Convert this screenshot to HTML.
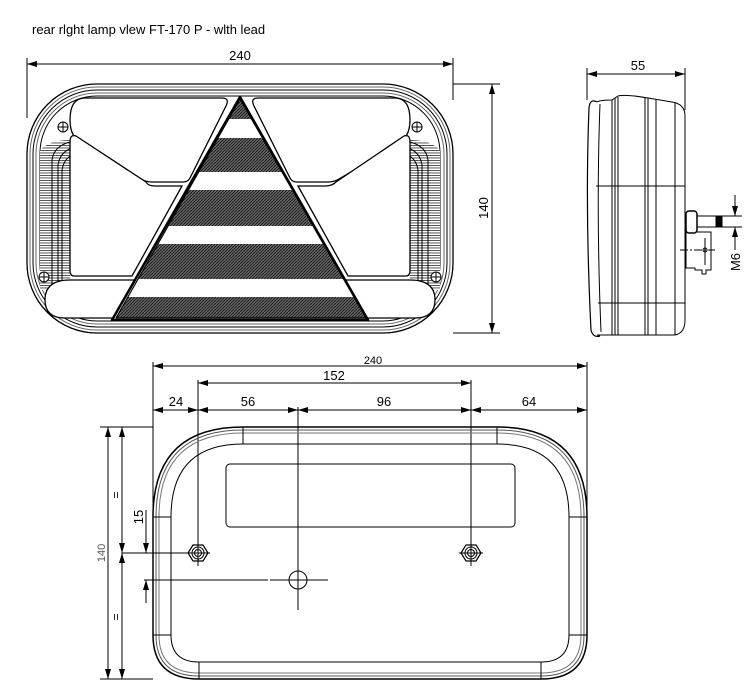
<!DOCTYPE html>
<html><head><meta charset="utf-8"><style>
html,body{margin:0;padding:0;background:#fff;}
svg{display:block;font-family:"Liberation Sans",Arial,sans-serif;}
</style></head><body>
<svg width="750" height="698" viewBox="0 0 750 698" xmlns="http://www.w3.org/2000/svg">
<defs>
<marker id="a" viewBox="0 0 10 6" refX="10" refY="3" markerWidth="10" markerHeight="6" orient="auto-start-reverse" markerUnits="userSpaceOnUse"><path d="M0,0 L10,3 L0,6 z" fill="#000"/></marker>
<pattern id="h" width="3" height="3" patternUnits="userSpaceOnUse"><rect width="3" height="3" fill="#6a6a6a"/><path d="M0,3 L3,0" stroke="#111" stroke-width="0.9"/></pattern>
<pattern id="st" width="3" height="2.5" patternUnits="userSpaceOnUse"><rect width="3" height="2.5" fill="#fff"/><rect width="3" height="0.9" fill="#444"/></pattern>
<clipPath id="tri"><path d="M240,99 L366,318 L116,318 Z"/></clipPath>
</defs>
<text x="32" y="34" font-size="13">rear rlght lamp vlew FT-170 P - wlth lead</text>

<!-- FRONT VIEW -->
<g fill="none" stroke="#000" stroke-width="1">
<line x1="27" y1="58" x2="27" y2="118"/><line x1="453" y1="58" x2="453" y2="100"/>
<line x1="27" y1="64" x2="453" y2="64" marker-start="url(#a)" marker-end="url(#a)"/>
<line x1="453" y1="84" x2="500" y2="84"/><line x1="453" y1="333" x2="500" y2="333"/>
<line x1="492" y1="84" x2="492" y2="333" marker-start="url(#a)" marker-end="url(#a)"/>
<rect x="27" y="84" width="426" height="249" rx="70" stroke-width="1.3"/>
<rect x="30" y="87" width="420" height="243" rx="67" stroke="#666"/>
<rect x="33" y="90" width="414" height="237" rx="64"/>
<rect x="36" y="93" width="408" height="231" rx="61" stroke="#666"/>
<rect x="40" y="96" width="400" height="225" rx="57"/>
<!-- side ribbed areas -->
<path d="M40,150 Q50,140 70,140 L72,170 L70,290 L58,290 L40,290 Z" fill="url(#st)" stroke="none"/>
<path d="M440,150 Q430,140 410,140 L408,170 L410,290 L422,290 L440,290 Z" fill="url(#st)" stroke="none"/>
<path d="M52,290 V160 Q54,146 70,142 M58,290 V165 Q60,152 72,148 M62,290 V170 Q64,158 74,154"/>
<path d="M428,290 V160 Q426,146 410,142 M422,290 V165 Q420,152 408,148 M418,290 V170 Q416,158 406,154"/>
<!-- upper left lens -->
<path d="M85,98 H222 Q230,98 226,106 L190,178 Q188,182 183,182 H152 Q146,182 141,179 L82,144 Q70,137 70,120 Q70,98 85,98 Z" stroke-width="1.3" fill="#fff"/>
<!-- lower left lens -->
<path d="M76,136 L146,182 Q148,186 155,186 H182 L132,276 H74 Q70,276 70,270 V142 Q70,134 76,136 Z" stroke-width="1.3" fill="#fff"/>
<!-- upper right lens -->
<path d="M395,98 H258 Q250,98 254,106 L290,178 Q292,182 297,182 H328 Q334,182 339,179 L398,144 Q410,137 410,120 Q410,98 395,98 Z" stroke-width="1.3" fill="#fff"/>
<path d="M404,136 L336,182 Q332,186 325,186 H298 L348,276 H406 Q410,276 410,270 V142 Q410,134 404,136 Z" stroke-width="1.3" fill="#fff"/>
<!-- bottom lens -->
<path d="M70,280 H410 Q435,280 435,300 Q435,318 415,318 H65 Q45,318 45,300 Q45,280 70,280 Z" stroke-width="1.3" fill="#fff"/>
<!-- screws -->
<circle cx="63" cy="127" r="5" fill="#fff"/><path d="M58,127 H68 M63,122 V132"/>
<circle cx="417" cy="127" r="5" fill="#fff"/><path d="M412,127 H422 M417,122 V132"/>
<circle cx="44" cy="277" r="5" fill="#fff"/><path d="M39,277 H49 M44,272 V282"/>
<circle cx="436" cy="277" r="5" fill="#fff"/><path d="M431,277 H441 M436,272 V282"/>
</g>
<!-- triangle -->
<path d="M240,97 L368,320 L112,320 Z" fill="#fff" stroke="#000" stroke-width="2.5" stroke-linejoin="round"/>
<g clip-path="url(#tri)" fill="url(#h)">
<rect x="100" y="99" width="280" height="20"/>
<rect x="100" y="138" width="280" height="34"/>
<rect x="100" y="190" width="280" height="36"/>
<rect x="100" y="244" width="280" height="35"/>
<rect x="100" y="297" width="280" height="22"/>
</g>
<path d="M240,99 L366,318 L116,318 Z" fill="none" stroke="#000" stroke-width="1.2" stroke-linejoin="round"/>
<text x="240" y="60" font-size="13" text-anchor="middle">240</text>
<text x="0" y="0" font-size="13" text-anchor="middle" transform="translate(488,208) rotate(-90)">140</text>

<!-- SIDE VIEW -->
<g fill="none" stroke="#000" stroke-width="1">
<line x1="587" y1="68" x2="587" y2="100"/><line x1="685" y1="68" x2="685" y2="110"/>
<line x1="587" y1="74" x2="685" y2="74" marker-start="url(#a)" marker-end="url(#a)"/>
<path d="M597,102 Q590,98 589,108 Q585,210 591,330 Q593,338 600,336" stroke-width="1.2"/>
<path d="M597,102 Q600,100 612,100 L618,96 Q625,94 648,98 L672,102 Q685,104 685,116 V320 Q685,333 675,335 L597,335"/>
<path d="M600,104 Q596,210 601,332"/>
<line x1="612" y1="100" x2="612" y2="335"/><line x1="615" y1="98" x2="615" y2="335"/><line x1="618" y1="97" x2="618" y2="335"/>
<line x1="645" y1="97" x2="645" y2="335"/><line x1="648" y1="98" x2="648" y2="335"/><line x1="656" y1="99" x2="656" y2="335"/>
<line x1="675" y1="102" x2="675" y2="335"/>
<line x1="596" y1="186" x2="685" y2="186"/><line x1="598" y1="303" x2="685" y2="303"/>
<rect x="686" y="211" width="11" height="22" rx="3" stroke-width="1.5"/>
<path d="M697,216 H718 V227 H697" />
<rect x="716" y="216" width="6" height="11" fill="#000"/>
<path d="M697,232 H711 V270 H706 V274 H702 V270 H695 V268 H686 V232"/>
<line x1="680" y1="250" x2="715" y2="250" stroke-dasharray="8,2,2,2"/>
<circle cx="705" cy="250" r="2"/>
<line x1="705" y1="238" x2="705" y2="265"/>
<line x1="722" y1="216" x2="742" y2="216"/><line x1="722" y1="227" x2="742" y2="227"/>
<line x1="735" y1="195" x2="735" y2="216" marker-end="url(#a)"/>
<line x1="735" y1="250" x2="735" y2="227" marker-end="url(#a)"/>
</g>
<text x="638" y="70" font-size="13" text-anchor="middle">55</text>
<text x="0" y="0" font-size="13" text-anchor="middle" transform="translate(740,262) rotate(-90)">M6</text>

<!-- BOTTOM VIEW -->
<g fill="none" stroke="#000" stroke-width="1">
<line x1="153" y1="362" x2="153" y2="520"/><line x1="587" y1="362" x2="587" y2="520"/>
<line x1="153" y1="366" x2="587" y2="366" marker-start="url(#a)" marker-end="url(#a)"/>
<line x1="198" y1="380" x2="198" y2="566"/><line x1="471" y1="380" x2="471" y2="566"/>
<line x1="198" y1="383" x2="471" y2="383" marker-start="url(#a)" marker-end="url(#a)"/>
<line x1="153" y1="410" x2="198" y2="410" marker-start="url(#a)" marker-end="url(#a)"/>
<line x1="198" y1="410" x2="298" y2="410" marker-start="url(#a)" marker-end="url(#a)"/>
<line x1="298" y1="410" x2="471" y2="410" marker-start="url(#a)" marker-end="url(#a)"/>
<line x1="471" y1="410" x2="587" y2="410" marker-start="url(#a)" marker-end="url(#a)"/>
<line x1="298" y1="407" x2="298" y2="610"/>
<path d="M243,427 H497 Q587,427 587,517 V635 Q587,679 541,679 H199 Q153,679 153,635 V517 Q153,427 243,427 Z" stroke-width="1.5"/>
<path d="M243,430 H497 Q584,430 584,517 V635 Q584,676 541,676 H199 Q156,676 156,635 V517 Q156,430 243,430 Z" stroke="#555"/>
<path d="M243,433 H497 Q581,433 581,517 V635 Q581,673 541,673 H199 Q159,673 159,635 V517 Q159,433 243,433 Z" stroke="#777"/>
<path d="M243,427 V444 M497,427 V444 M243,444 H497" />
<path d="M153,517 H171 M587,517 H569 M153,635 H171 M587,635 H569 M199,662 V679 M541,662 V679 M199,662 H541"/>
<path d="M243,444 Q171,444 171,517 V635 Q171,662 199,662 M497,444 Q569,444 569,517 V635 Q569,662 541,662"/>
<rect x="226" y="464" width="289" height="63" rx="4"/>
<polygon points="188,553 193,545 203,545 208,553 203,561 193,561" stroke-width="1.2"/>
<circle cx="198" cy="553" r="6"/><circle cx="198" cy="553" r="3.5"/>
<line x1="122" y1="553" x2="210" y2="553"/>
<polygon points="461,553 466,545 476,545 481,553 476,561 466,561" stroke-width="1.2"/>
<circle cx="471" cy="553" r="6"/><circle cx="471" cy="553" r="3.5"/>
<line x1="459" y1="553" x2="483" y2="553"/><line x1="471" y1="545" x2="471" y2="561"/>
<circle cx="298" cy="580" r="9"/>
<line x1="144" y1="580" x2="268" y2="580"/><line x1="270" y1="580" x2="328" y2="580"/>
<line x1="100" y1="427" x2="153" y2="427"/><line x1="100" y1="679" x2="153" y2="679"/>
<line x1="108" y1="427" x2="108" y2="679" marker-start="url(#a)" marker-end="url(#a)"/>
<line x1="122" y1="427" x2="122" y2="553" marker-start="url(#a)" marker-end="url(#a)"/>
<line x1="122" y1="553" x2="122" y2="679" marker-start="url(#a)" marker-end="url(#a)"/>
<line x1="146" y1="510" x2="146" y2="553" marker-end="url(#a)"/>
<line x1="146" y1="603" x2="146" y2="580" marker-end="url(#a)"/>
</g>
<text x="373" y="364" font-size="11" text-anchor="middle">240</text>
<text x="334" y="380" font-size="13" text-anchor="middle">152</text>
<text x="176" y="406" font-size="13" text-anchor="middle">24</text>
<text x="248" y="406" font-size="13" text-anchor="middle">56</text>
<text x="384" y="406" font-size="13" text-anchor="middle">96</text>
<text x="529" y="406" font-size="13" text-anchor="middle">64</text>
<text x="0" y="0" font-size="11" fill="#555" text-anchor="middle" transform="translate(105,553) rotate(-90)">140</text>
<text x="0" y="0" font-size="13" text-anchor="middle" transform="translate(143,517) rotate(-90)">15</text>
<text x="0" y="0" font-size="12" text-anchor="middle" transform="translate(120,495) rotate(-90)">=</text>
<text x="0" y="0" font-size="12" text-anchor="middle" transform="translate(120,617) rotate(-90)">=</text>
</svg>
</body></html>
